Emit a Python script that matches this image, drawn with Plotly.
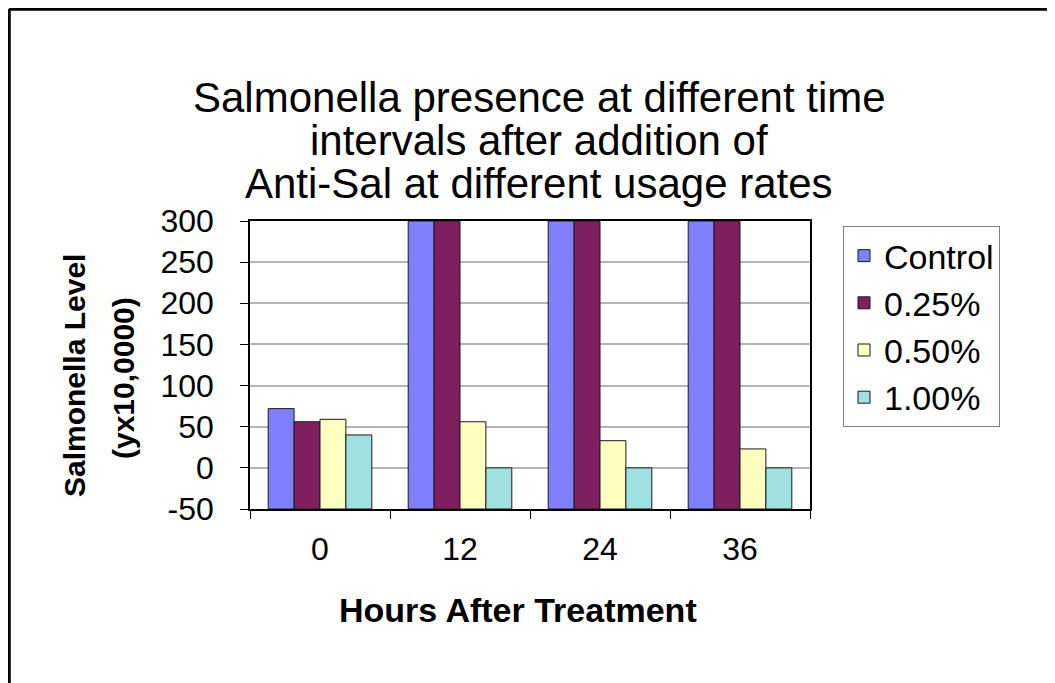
import plotly.graph_objects as go

# ---- data ----
hours = ["0", "12", "24", "36"]
series_names = ["Control", "0.25%", "0.50%", "1.00%"]
control = [72, 300, 300, 300]
p025 = [56, 300, 300, 300]
p050 = [59, 56, 33, 23]
p100 = [40, 0, 0, 0]
series_values = [control, p025, p050, p100]
colors = ["#8080FF", "#7F1F5F", "#FFFFC0", "#A0E0E0"]
y_ticks = [-50, 0, 50, 100, 150, 200, 250, 300]
y_tick_labels = [str(v) for v in y_ticks]
axis_base = -50

title_lines = [
    "Salmonella presence at different time",
    "intervals after addition of",
    "Anti-Sal at different usage rates",
]
FONT = "Liberation Sans, Arial, sans-serif"

# page has an 8px body margin; positions below are in page pixels
OFF = 8
W, H = 1055 - OFF, 683 - OFF
L, R, T, B = 250 - OFF, 1055 - 810, 221 - OFF, 683 - 509
plot_h = H - T - B
plot_w = W - L - R


def px_x(px):
    return (px - OFF - L) / plot_w


def px_y(py):
    return (H - B - (py - OFF)) / plot_h


fig = go.Figure()
for name, vals, col in zip(series_names, series_values, colors):
    fig.add_trace(go.Bar(
        x=hours,
        y=[v - axis_base for v in vals],
        base=axis_base,
        name=name,
        legendgroup=name,
        marker=dict(color=col, line=dict(color="#1a1a1a", width=1)),
        customdata=vals,
        hovertemplate="%{x} h: %{customdata}<extra>" + name + "</extra>",
    ))

annotations = []
for line, py in zip(title_lines, [97, 140, 183]):
    annotations.append(dict(
        text=line, x=px_x(539), y=px_y(py), xref="paper", yref="paper",
        xanchor="center", yanchor="middle", showarrow=False,
        font=dict(family=FONT, size=42, color="black"),
    ))
annotations.append(dict(
    text="<b>Hours After Treatment</b>", x=px_x(518), y=px_y(610),
    xref="paper", yref="paper", xanchor="center", yanchor="middle",
    showarrow=False, font=dict(family=FONT, size=34, color="black"),
))
annotations.append(dict(
    text="<b>Salmonella Level</b>", x=px_x(74), y=px_y(376),
    xref="paper", yref="paper", xanchor="center", yanchor="middle",
    textangle=-90, showarrow=False, font=dict(family=FONT, size=30, color="black"),
))
annotations.append(dict(
    text="<b>(yx10,0000)</b>", x=px_x(123), y=px_y(378),
    xref="paper", yref="paper", xanchor="center", yanchor="middle",
    textangle=-90, showarrow=False, font=dict(family=FONT, size=30, color="black"),
))

shapes = [
    dict(type="line", xref="paper", yref="paper",
         x0=px_x(9), x1=px_x(1060), y0=px_y(9), y1=px_y(9),
         line=dict(color="black", width=3.5)),
    dict(type="line", xref="paper", yref="paper",
         x0=px_x(9), x1=px_x(9), y0=px_y(9), y1=px_y(690),
         line=dict(color="black", width=3.5)),
]

fig.update_layout(
    width=W, height=H, autosize=False,
    margin=dict(l=L, r=R, t=T, b=B, pad=0),
    paper_bgcolor="white", plot_bgcolor="white",
    barmode="group", bargap=0.26, bargroupgap=0,
    font=dict(family=FONT, color="black"),
    showlegend=True,
    legend=dict(
        x=px_x(843), y=px_y(226), xanchor="left", yanchor="top",
        bordercolor="#808080", borderwidth=1, bgcolor="white",
        font=dict(family=FONT, size=34, color="black"),
        traceorder="grouped", tracegroupgap=0,
    ),
    xaxis=dict(
        type="category", tickson="boundaries", ticks="outside", ticklen=8,
        tickcolor="black", showline=True, linecolor="black", linewidth=1.5,
        mirror=True, showgrid=False,
        tickfont=dict(family=FONT, size=32, color="black"),
        ticklabelstandoff=11,
    ),
    yaxis=dict(
        range=[y_ticks[0], y_ticks[-1]], tickvals=y_ticks, ticktext=y_tick_labels,
        ticks="outside",
        ticklen=8, tickcolor="black", showline=True, linecolor="black",
        linewidth=1.5, mirror=True, showgrid=True, gridcolor="#B4B4B4",
        gridwidth=1.5, zeroline=False,
        tickfont=dict(family=FONT, size=32, color="black"),
        ticklabelstandoff=20,
    ),
    annotations=annotations,
    shapes=shapes,
)

fig.write_html("out.html")
